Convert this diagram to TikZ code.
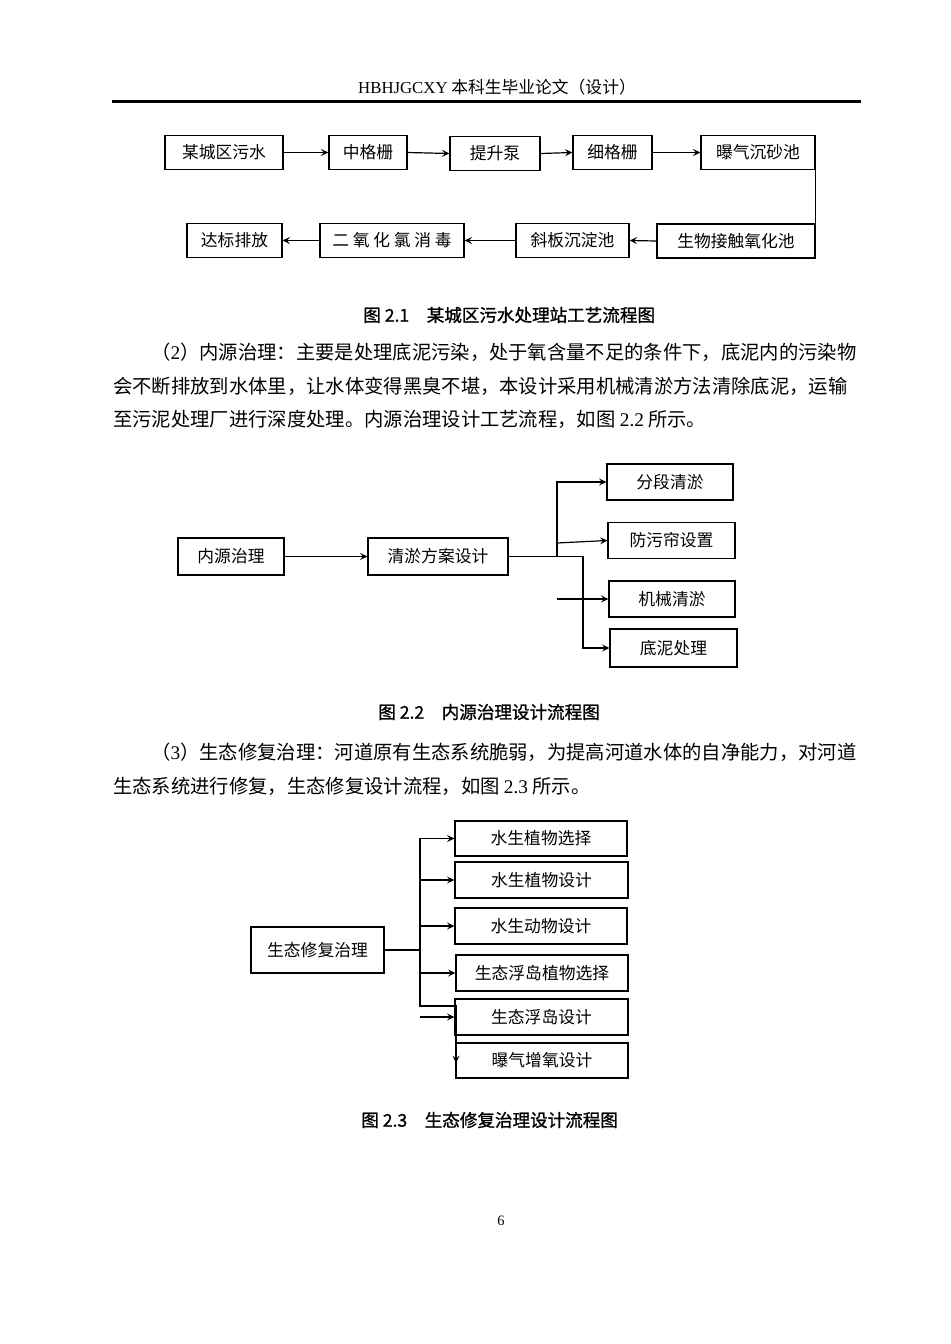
\documentclass[tikz,border=0pt]{standalone}
\usepackage{fontspec}
\setmainfont{Noto Sans CJK SC}
\newfontfamily\lat{Liberation Serif}
\newfontfamily\capfont[FakeBold=1.2]{Noto Sans CJK SC}
\usetikzlibrary{arrows.meta}
\newlength\pxl
\setlength\pxl{0.6264pt}

\begin{document}
\begin{tikzpicture}[
    x=0.6264pt, y=-0.6264pt,
    every node/.style={inner sep=0pt},
    box/.style={draw, line width=0.8pt, minimum height=34\pxl, font=\fontsize{10.5}{12}\selectfont},
    bodytext/.style={anchor=west, font=\fontsize{12.1}{14}\selectfont},
    caption/.style={anchor=west, font=\fontsize{11}{13}\capfont},
    flow/.style={-{Stealth[length=4.6pt, width=4.4pt, inset=1.8pt]}, line width=0.75pt}
  ]
  \fill[white] (0,0) rectangle (950,1344);
  \useasboundingbox (0,0) rectangle (950,1344);

  % page head
  \node[font=\fontsize{10.5}{12}\selectfont] (head) at (497,87) {{\lat HBHJGCXY} 本科生毕业论文（设计）};
  \coordinate (ruleL) at (112,101.5);
  \coordinate (ruleR) at (861,101.5);
  \draw[line width=1.5pt] (ruleL) -- (ruleR);

  % figure 2.1
  \node[box, minimum width=118\pxl] (sewage) at (224,152.5) {某城区污水};
  \node[box, minimum width=78\pxl] (midscreen) at (368,152.5) {中格栅};
  \node[box, minimum width=90\pxl] (pump) at (495,153.5) {提升泵};
  \node[box, minimum width=79\pxl] (finescreen) at (612.5,152.5) {细格栅};
  \node[box, minimum width=114\pxl] (gritpool) at (758,152.5) {曝气沉砂池};
  \node[box, minimum width=158\pxl] (biopool) at (736,241) {生物接触氧化池};
  \node[box, minimum width=113\pxl] (settle) at (572.5,240.5) {斜板沉淀池};
  \node[box, minimum width=144\pxl] (disinfect) at (392,240.5) {二 氧 化 氯 消 毒};
  \node[box, minimum width=95\pxl] (discharge) at (234.5,240.5) {达标排放};

  \draw[flow] (sewage) -- (midscreen);
  \draw[flow] (midscreen.east) -- (pump.west);
  \draw[flow] (pump.east) -- (finescreen.west);
  \draw[flow] (finescreen) -- (gritpool);
  \draw[line width=0.8pt] (gritpool.south east) -- (biopool.north east);
  \draw[flow] (biopool.west) -- (settle.east);
  \draw[flow] (settle) -- (disinfect);
  \draw[flow] (disinfect) -- (discharge);

  \node[caption] (cap1) at (363,315) {图 2.1\quad 某城区污水处理站工艺流程图};

  % paragraph (2)
  \node[bodytext] (p2a) at (151,352) {（{\lat 2}）内源治理：主要是处理底泥污染，处于氧含量不足的条件下，底泥内的污染物};
  \node[bodytext] (p2b) at (113,386) {会不断排放到水体里，让水体变得黑臭不堪，本设计采用机械清淤方法清除底泥，运输};
  \node[bodytext] (p2c) at (113,419) {至污泥处理厂进行深度处理。内源治理设计工艺流程，如图 {\lat 2.2} 所示。};

  % figure 2.2
  \node[box, minimum width=106\pxl, minimum height=37\pxl] (inner) at (231,556.5) {内源治理};
  \node[box, minimum width=140\pxl, minimum height=37\pxl] (dredgeplan) at (438,556.5) {清淤方案设计};
  \node[box, minimum width=126\pxl, minimum height=36\pxl] (segment) at (670,482) {分段清淤};
  \node[box, minimum width=127\pxl, minimum height=36\pxl] (curtain) at (671.5,540.5) {防污帘设置};
  \node[box, minimum width=126\pxl, minimum height=36\pxl] (mechanic) at (672,599) {机械清淤};
  \node[box, minimum width=127\pxl, minimum height=38\pxl] (sludge) at (673.5,648) {底泥处理};

  \coordinate (fork) at (557,556.5);
  \coordinate (sludgeTurn) at (583,556.5);
  \coordinate (curtainIn) at (557,543);
  \coordinate (mechIn) at (557,599);

  \draw[flow] (inner) -- (dredgeplan);
  \draw[line width=0.75pt] (dredgeplan) -- (fork);
  \draw[flow] (fork) |- (segment);
  \draw[flow] (curtainIn) -- (curtain.west);
  \draw[flow] (fork) -- (sludgeTurn) |- (sludge);
  \draw[flow] (mechIn) -- (mechanic);

  \node[caption] (cap2) at (378,712) {图 2.2\quad 内源治理设计流程图};

  % paragraph (3)
  \node[bodytext] (p3a) at (151,752) {（{\lat 3}）生态修复治理：河道原有生态系统脆弱，为提高河道水体的自净能力，对河道};
  \node[bodytext] (p3b) at (113,786) {生态系统进行修复，生态修复设计流程，如图 {\lat 2.3} 所示。};

  % figure 2.3
  \node[box, minimum width=133\pxl, minimum height=46\pxl] (eco) at (317.5,950) {生态修复治理};
  \node[box, minimum width=172\pxl, minimum height=35\pxl] (plantsel) at (541,838.5) {水生植物选择};
  \node[box, minimum width=173\pxl, minimum height=36\pxl] (plantdes) at (541.5,880) {水生植物设计};
  \node[box, minimum width=172\pxl, minimum height=36\pxl] (animal) at (541,926) {水生动物设计};
  \node[box, minimum width=172\pxl, minimum height=36\pxl] (islandplant) at (542,973) {生态浮岛植物选择};
  \node[box, minimum width=173\pxl, minimum height=36\pxl] (island) at (541.5,1017) {生态浮岛设计};
  \node[box, minimum width=172\pxl, minimum height=35\pxl] (aeration) at (542,1060.5) {曝气增氧设计};

  \coordinate (trunk) at (420,950);
  \coordinate (trunkEnd) at (420,1006);
  \coordinate (bend) at (456,1006);
  \coordinate (aerTip) at (456,1063);
  \coordinate (islandIn) at (420,1017);

  \draw[line width=0.75pt] (eco) -- (trunk);
  \draw[flow] (trunk) |- (plantsel);
  \draw[flow] (trunk) |- (plantdes);
  \draw[flow] (trunk) |- (animal);
  \draw[flow] (trunk) |- (islandplant);
  \draw[flow] (trunk) -- (trunkEnd) -- (bend) -- (aerTip);
  \draw[flow] (islandIn) -- (island);

  \node[caption] (cap3) at (361,1120) {图 2.3\quad 生态修复治理设计流程图};

  % page number
  \node[font=\fontsize{9}{11}\selectfont\lat] (pageno) at (501,1221) {6};
\end{tikzpicture}
\end{document}
